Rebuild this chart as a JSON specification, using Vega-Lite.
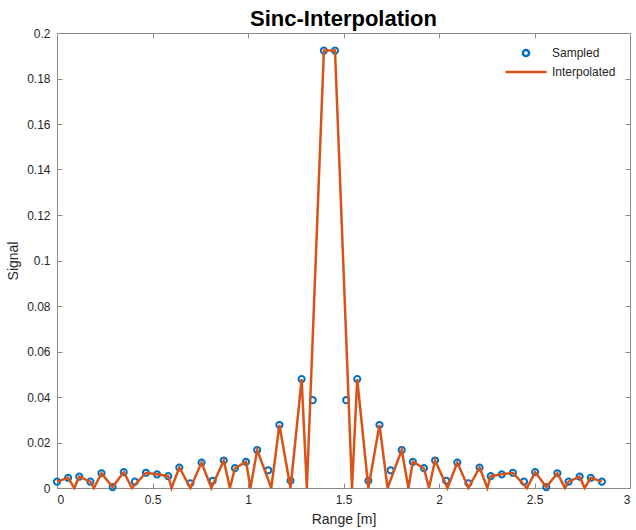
{
  "$schema": "https://vega.github.io/schema/vega-lite/v6.json",
  "width": 573,
  "height": 455,
  "autosize": {"type": "none"},
  "padding": {"left": 57, "top": 33, "right": 6, "bottom": 42},
  "background": "white",
  "title": {"text": "Sinc-Interpolation", "fontSize": 22, "fontWeight": "bold", "font": "Liberation Sans", "color": "#000000", "offset": -4, "anchor": "middle"},
  "datasets": {
    "sampled": [
      {"range": 0, "signal": 0.0028, "series": "Sampled"},
      {"range": 0.0582, "signal": 0.0045, "series": "Sampled"},
      {"range": 0.1164, "signal": 0.0050, "series": "Sampled"},
      {"range": 0.1747, "signal": 0.0028, "series": "Sampled"},
      {"range": 0.2329, "signal": 0.0065, "series": "Sampled"},
      {"range": 0.2911, "signal": 0.0004, "series": "Sampled"},
      {"range": 0.3493, "signal": 0.0070, "series": "Sampled"},
      {"range": 0.4075, "signal": 0.0028, "series": "Sampled"},
      {"range": 0.4658, "signal": 0.0067, "series": "Sampled"},
      {"range": 0.5240, "signal": 0.0060, "series": "Sampled"},
      {"range": 0.5822, "signal": 0.0052, "series": "Sampled"},
      {"range": 0.6404, "signal": 0.0090, "series": "Sampled"},
      {"range": 0.6986, "signal": 0.0021, "series": "Sampled"},
      {"range": 0.7569, "signal": 0.0112, "series": "Sampled"},
      {"range": 0.8151, "signal": 0.0032, "series": "Sampled"},
      {"range": 0.8733, "signal": 0.0121, "series": "Sampled"},
      {"range": 0.9315, "signal": 0.0087, "series": "Sampled"},
      {"range": 0.9897, "signal": 0.0115, "series": "Sampled"},
      {"range": 1.0480, "signal": 0.0167, "series": "Sampled"},
      {"range": 1.1062, "signal": 0.0078, "series": "Sampled"},
      {"range": 1.1644, "signal": 0.0277, "series": "Sampled"},
      {"range": 1.2226, "signal": 0.0032, "series": "Sampled"},
      {"range": 1.2808, "signal": 0.0479, "series": "Sampled"},
      {"range": 1.3391, "signal": 0.0386, "series": "Sampled"},
      {"range": 1.3973, "signal": 0.1923, "series": "Sampled"},
      {"range": 1.4555, "signal": 0.1923, "series": "Sampled"},
      {"range": 1.5137, "signal": 0.0386, "series": "Sampled"},
      {"range": 1.5719, "signal": 0.0479, "series": "Sampled"},
      {"range": 1.6302, "signal": 0.0032, "series": "Sampled"},
      {"range": 1.6884, "signal": 0.0277, "series": "Sampled"},
      {"range": 1.7466, "signal": 0.0078, "series": "Sampled"},
      {"range": 1.8048, "signal": 0.0167, "series": "Sampled"},
      {"range": 1.8630, "signal": 0.0115, "series": "Sampled"},
      {"range": 1.9213, "signal": 0.0087, "series": "Sampled"},
      {"range": 1.9795, "signal": 0.0121, "series": "Sampled"},
      {"range": 2.0377, "signal": 0.0032, "series": "Sampled"},
      {"range": 2.0959, "signal": 0.0112, "series": "Sampled"},
      {"range": 2.1541, "signal": 0.0021, "series": "Sampled"},
      {"range": 2.2124, "signal": 0.0090, "series": "Sampled"},
      {"range": 2.2706, "signal": 0.0052, "series": "Sampled"},
      {"range": 2.3288, "signal": 0.0060, "series": "Sampled"},
      {"range": 2.3870, "signal": 0.0067, "series": "Sampled"},
      {"range": 2.4452, "signal": 0.0028, "series": "Sampled"},
      {"range": 2.5035, "signal": 0.0070, "series": "Sampled"},
      {"range": 2.5617, "signal": 0.0004, "series": "Sampled"},
      {"range": 2.6199, "signal": 0.0065, "series": "Sampled"},
      {"range": 2.6781, "signal": 0.0028, "series": "Sampled"},
      {"range": 2.7363, "signal": 0.0050, "series": "Sampled"},
      {"range": 2.7946, "signal": 0.0045, "series": "Sampled"},
      {"range": 2.8528, "signal": 0.0028, "series": "Sampled"}
    ],
    "interpolated": [
      {"range": 0, "signal": 0.0028},
      {"range": 0.0582, "signal": 0.0045},
      {"range": 0.0902, "signal": 0},
      {"range": 0.1164, "signal": 0.0050},
      {"range": 0.1747, "signal": 0.0028},
      {"range": 0.1933, "signal": 0},
      {"range": 0.2329, "signal": 0.0065},
      {"range": 0.2911, "signal": 0.0004},
      {"range": 0.3493, "signal": 0.0070},
      {"range": 0.3924, "signal": 0},
      {"range": 0.4658, "signal": 0.0067},
      {"range": 0.5240, "signal": 0.0060},
      {"range": 0.5822, "signal": 0.0052},
      {"range": 0.5997, "signal": 0},
      {"range": 0.6404, "signal": 0.0090},
      {"range": 0.6986, "signal": 0},
      {"range": 0.7569, "signal": 0.0112},
      {"range": 0.8081, "signal": 0},
      {"range": 0.8733, "signal": 0.0121},
      {"range": 0.9053, "signal": 0},
      {"range": 0.9315, "signal": 0.0087},
      {"range": 0.9897, "signal": 0.0115},
      {"range": 1.0130, "signal": 0},
      {"range": 1.0480, "signal": 0.0167},
      {"range": 1.1219, "signal": 0},
      {"range": 1.1644, "signal": 0.0277},
      {"range": 1.2226, "signal": 0},
      {"range": 1.2808, "signal": 0.0479},
      {"range": 1.3082, "signal": 0},
      {"range": 1.3973, "signal": 0.1923},
      {"range": 1.4555, "signal": 0.1923},
      {"range": 1.5446, "signal": 0},
      {"range": 1.5719, "signal": 0.0479},
      {"range": 1.6302, "signal": 0},
      {"range": 1.6884, "signal": 0.0277},
      {"range": 1.7309, "signal": 0},
      {"range": 1.8048, "signal": 0.0167},
      {"range": 1.8398, "signal": 0},
      {"range": 1.8630, "signal": 0.0115},
      {"range": 1.9213, "signal": 0.0087},
      {"range": 1.9475, "signal": 0},
      {"range": 1.9795, "signal": 0.0121},
      {"range": 2.0447, "signal": 0},
      {"range": 2.0959, "signal": 0.0112},
      {"range": 2.1541, "signal": 0},
      {"range": 2.2124, "signal": 0.0090},
      {"range": 2.2531, "signal": 0},
      {"range": 2.2706, "signal": 0.0052},
      {"range": 2.3288, "signal": 0.0060},
      {"range": 2.3870, "signal": 0.0067},
      {"range": 2.4604, "signal": 0},
      {"range": 2.5035, "signal": 0.0070},
      {"range": 2.5617, "signal": 0.0004},
      {"range": 2.6199, "signal": 0.0065},
      {"range": 2.6595, "signal": 0},
      {"range": 2.6781, "signal": 0.0028},
      {"range": 2.7363, "signal": 0.0050},
      {"range": 2.7626, "signal": 0},
      {"range": 2.7946, "signal": 0.0045},
      {"range": 2.8528, "signal": 0.0028}
    ]
  },
  "layer": [
    {
      "data": {"name": "sampled"},
      "mark": {"type": "point", "filled": false, "strokeWidth": 2, "opacity": 1, "size": 38},
      "encoding": {
        "x": {"field": "range", "type": "quantitative", "scale": {"domain": [0, 3], "nice": false, "zero": false},
              "axis": {"orient": "top", "labels": false, "title": null, "values": [0, 0.5, 1, 1.5, 2, 2.5, 3]}},
        "y": {"field": "signal", "type": "quantitative", "scale": {"domain": [0, 0.2], "nice": false},
              "axis": {"orient": "right", "labels": false, "title": null, "values": [0, 0.02, 0.04, 0.06, 0.08, 0.1, 0.12, 0.14, 0.16, 0.18, 0.2]}},
        "color": {"field": "series", "type": "nominal", "scale": {"domain": ["Sampled", "Interpolated"], "range": ["#0072BD", "#D95319"]}, "legend": {"title": null}},
        "shape": {"field": "series", "type": "nominal", "scale": {"domain": ["Sampled", "Interpolated"], "range": ["circle", "M-6.67,0H6.67"]}, "legend": {"title": null}}
      }
    },
    {
      "data": {"name": "interpolated"},
      "mark": {"type": "line", "strokeWidth": 2.5, "color": "#D95319", "strokeJoin": "miter", "strokeMiterLimit": 4},
      "encoding": {
        "x": {"field": "range", "type": "quantitative", "scale": {"domain": [0, 3], "nice": false, "zero": false},
              "axis": {"orient": "bottom", "title": "Range [m]", "values": [0, 0.5, 1, 1.5, 2, 2.5, 3], "format": "~g", "labelPadding": 11, "titlePadding": 7}},
        "y": {"field": "signal", "type": "quantitative", "scale": {"domain": [0, 0.2], "nice": false},
              "axis": {"orient": "left", "title": "Signal", "values": [0, 0.02, 0.04, 0.06, 0.08, 0.1, 0.12, 0.14, 0.16, 0.18, 0.2], "format": "~g", "labelPadding": 12, "titlePadding": 6}}
      }
    }
  ],
  "resolve": {"axis": {"x": "independent", "y": "independent"}},
  "config": {
    "font": "Liberation Sans",
    "view": {"stroke": null},
    "axis": {
      "grid": false,
      "domainColor": "#8a8a8a",
      "domainWidth": 1,
      "tickColor": "#8a8a8a",
      "tickSize": -5,
      "tickWidth": 1,
      "labelColor": "#262626",
      "labelFont": "Liberation Sans",
      "labelFontSize": 12,
      "titleFont": "Liberation Sans",
      "titleFontSize": 14,
      "titleFontWeight": "normal",
      "titleColor": "#262626"
    },
    "legend": {
      "orient": "top-right",
      "offset": 14,
      "padding": 0,
      "labelFont": "Liberation Sans",
      "labelFontSize": 12,
      "labelColor": "#262626",
      "labelOffset": 20,
      "rowPadding": 4,
      "symbolSize": 38,
      "symbolStrokeWidth": 2.5
    }
  }
}
